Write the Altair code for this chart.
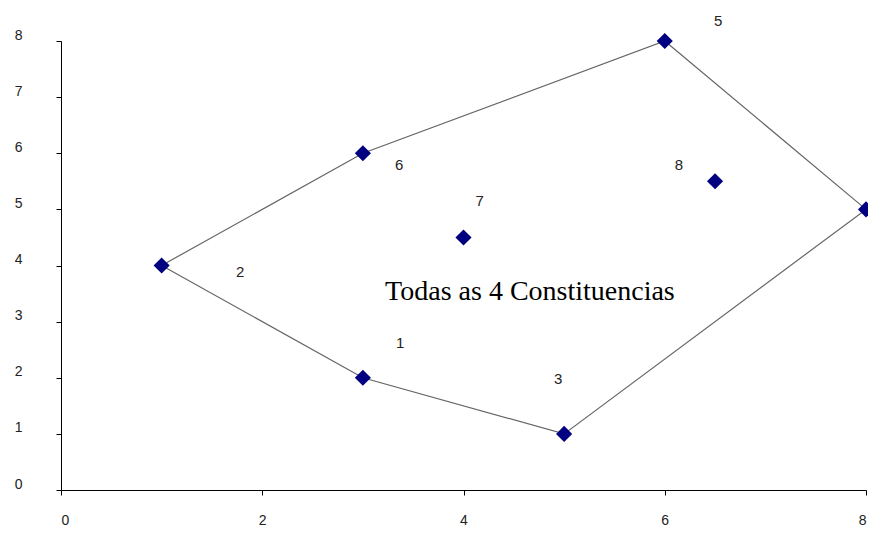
import altair as alt
import pandas as pd

# polygon vertices (in drawing order) and all points
poly_x = [1, 3, 6, 8, 5, 3, 1]
poly_y = [4, 6, 8, 5, 1, 2, 4]
pts_x = [3, 1, 5, 8, 6, 3, 4, 6.5]
pts_y = [2, 4, 1, 5, 8, 6, 4.5, 5.5]
lab_text = ["1", "2", "3", "4", "5", "6", "7", "8"]
lab_x = [3.37, 1.78, 4.94, 8.1, 6.53, 3.36, 4.16, 6.14]
lab_y = [2.62, 3.89, 1.98, 3.92, 8.36, 5.79, 5.15, 5.79]
note_text = ["Todas as 4 Constituencias"]
note_x = [4.66]
note_y = [3.53]

poly = pd.DataFrame({"x": poly_x, "y": poly_y, "o": list(range(len(poly_x)))})
pts = pd.DataFrame({"x": pts_x, "y": pts_y})
labs = pd.DataFrame({"x": lab_x, "y": lab_y, "t": lab_text})
note = pd.DataFrame({"x": note_x, "y": note_y, "t": note_text})

xs = alt.Scale(domain=[0, 8], nice=False)
ys = alt.Scale(domain=[0, 8], nice=False)

xax = alt.Axis(values=[0, 2, 4, 6, 8], format="d", title=None, grid=False, domainColor="#000000",
               tickColor="#000000", tickSize=5, labelPadding=18, labelFontSize=14,
               labelFont="Liberation Sans", labelColor="#222222")
yax = alt.Axis(values=[0, 1, 2, 3, 4, 5, 6, 7, 8], format="d", title=None, grid=False,
               domainColor="#000000", tickColor="#000000", tickSize=5, labelPadding=34,
               labelFontSize=14, labelFont="Liberation Sans", labelColor="#222222",
               labelOffset=-6)

lines = alt.Chart(poly).mark_line(color="#666666", strokeWidth=1.2).encode(
    x=alt.X("x:Q", scale=xs, axis=xax),
    y=alt.Y("y:Q", scale=ys, axis=yax),
    order="o:Q",
)
points = alt.Chart(pts).mark_point(shape="diamond", filled=True, color="#000080",
                                   size=260, opacity=1).encode(
    x=alt.X("x:Q", scale=xs), y=alt.Y("y:Q", scale=ys)
)
labels = alt.Chart(labs).mark_text(fontSize=15, font="Liberation Sans", color="#222222",
                                   clip=False).encode(
    x=alt.X("x:Q", scale=xs), y=alt.Y("y:Q", scale=ys), text="t:N"
)
notes = alt.Chart(note).mark_text(fontSize=28, font="Liberation Serif", color="#000000").encode(
    x=alt.X("x:Q", scale=xs), y=alt.Y("y:Q", scale=ys), text="t:N"
)

chart = alt.layer(lines, points, labels, notes).properties(
    width=805, height=449,
    autosize=alt.AutoSizeParams(type="none"),
    padding={"left": 53, "top": 33, "right": 2, "bottom": 37},
).configure_view(stroke=None)

chart.save("out.html", embed_options={"renderer": "svg", "actions": False})
